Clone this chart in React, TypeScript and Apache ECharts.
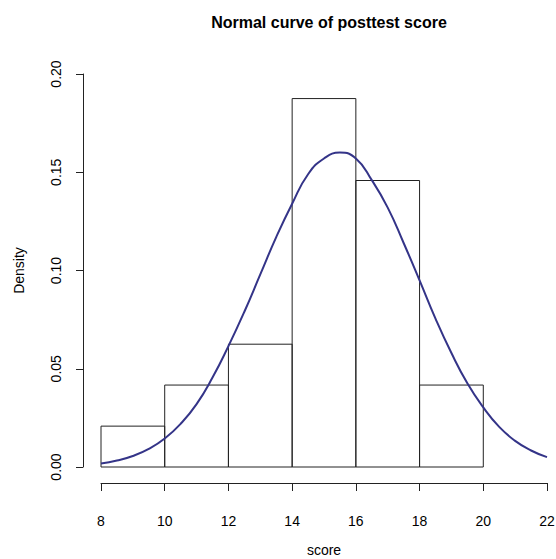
import React, { useEffect, useRef } from "react";
import * as echarts from "echarts";

const binStarts = [8, 10, 12, 14, 16, 18];
const binEnds = [10, 12, 14, 16, 18, 20];
const densities = [0.0208, 0.0417, 0.0625, 0.1875, 0.1458, 0.0417];

const curveX = [8, 8.5, 9, 9.5, 10, 10.5, 11, 11.5, 12, 12.5, 13, 13.5, 14, 14.5, 15, 15.5, 16, 16.5, 17, 17.5, 18, 18.5, 19, 19.5, 20, 20.5, 21, 21.5, 22];
const curveY = [0.0018, 0.0033, 0.0056, 0.0092, 0.0145, 0.022, 0.032, 0.0455, 0.0615, 0.079, 0.098, 0.117, 0.134, 0.149, 0.157, 0.16, 0.157, 0.146, 0.132, 0.114, 0.095, 0.0755, 0.058, 0.0426, 0.0303, 0.0204, 0.0133, 0.0084, 0.005];

const xTicks = { min: 8, max: 22, interval: 2 };
const yTicks = { min: 0, max: 0.2, interval: 0.05 };

const FONT = "'Liberation Sans', Arial, sans-serif";

export default function App() {
  const ref = useRef<HTMLDivElement>(null);
  useEffect(() => {
    if (!ref.current) return;
    const chart = echarts.init(ref.current, undefined, { renderer: "svg" });
    const bars = binStarts.map((s, i) => [s, binEnds[i], densities[i]]);
    const curve = curveX.map((x, i) => [x, curveY[i]]);
    chart.setOption({
      animation: false,
      backgroundColor: "#ffffff",
      title: {
        text: "Normal curve of posttest score",
        left: 324,
        top: 9,
        textAlign: "center",
        textStyle: { fontFamily: FONT, fontWeight: "bold", fontSize: 16, color: "#000" },
      },
      grid: { left: 101, right: 9, top: 74, bottom: 92, containLabel: false, outerBoundsMode: "none" },
      xAxis: {
        type: "value",
        min: xTicks.min,
        max: xTicks.max,
        interval: xTicks.interval,
        offset: 16,
        name: "score",
        nameLocation: "middle",
        nameGap: 60,
        nameTextStyle: { fontFamily: FONT, fontSize: 14, color: "#000" },
        axisLine: { show: true, onZero: false, lineStyle: { color: "#222", width: 1 } },
        axisTick: { show: true, length: 8, lineStyle: { color: "#222" } },
        axisLabel: { fontFamily: FONT, fontSize: 14, color: "#000", margin: 31 },
        splitLine: { show: false },
      },
      yAxis: {
        type: "value",
        min: yTicks.min,
        max: yTicks.max,
        interval: yTicks.interval,
        offset: 18,
        name: "Density",
        nameLocation: "middle",
        nameGap: 57,
        nameTextStyle: { fontFamily: FONT, fontSize: 14, color: "#000" },
        axisLine: { show: true, onZero: false, lineStyle: { color: "#222", width: 1 } },
        axisTick: { show: true, length: 7, lineStyle: { color: "#222" } },
        axisLabel: {
          fontFamily: FONT,
          fontSize: 14,
          color: "#000",
          rotate: 90,
          margin: 20,
          formatter: (v: number) => v.toFixed(2),
        },
        splitLine: { show: false },
      },
      series: [
        {
          type: "custom",
          data: bars,
          encode: { x: [0, 1], y: 2 },
          renderItem: (params: any, api: any) => {
            const p0 = api.coord([api.value(0), api.value(2)]);
            const p1 = api.coord([api.value(1), 0]);
            return {
              type: "rect",
              shape: { x: p0[0], y: p0[1], width: p1[0] - p0[0], height: p1[1] - p0[1] },
              style: { fill: "none", stroke: "#222", lineWidth: 1 },
            };
          },
          z: 1,
        },
        {
          type: "line",
          data: curve,
          smooth: 0.5,
          showSymbol: false,
          lineStyle: { color: "#343488", width: 2 },
          z: 2,
        },
      ],
    });
    return () => chart.dispose();
  }, []);
  return (
    <div
      ref={ref}
      style={{ position: "fixed", left: 0, top: 0, width: 556, height: 559 }}
    />
  );
}
